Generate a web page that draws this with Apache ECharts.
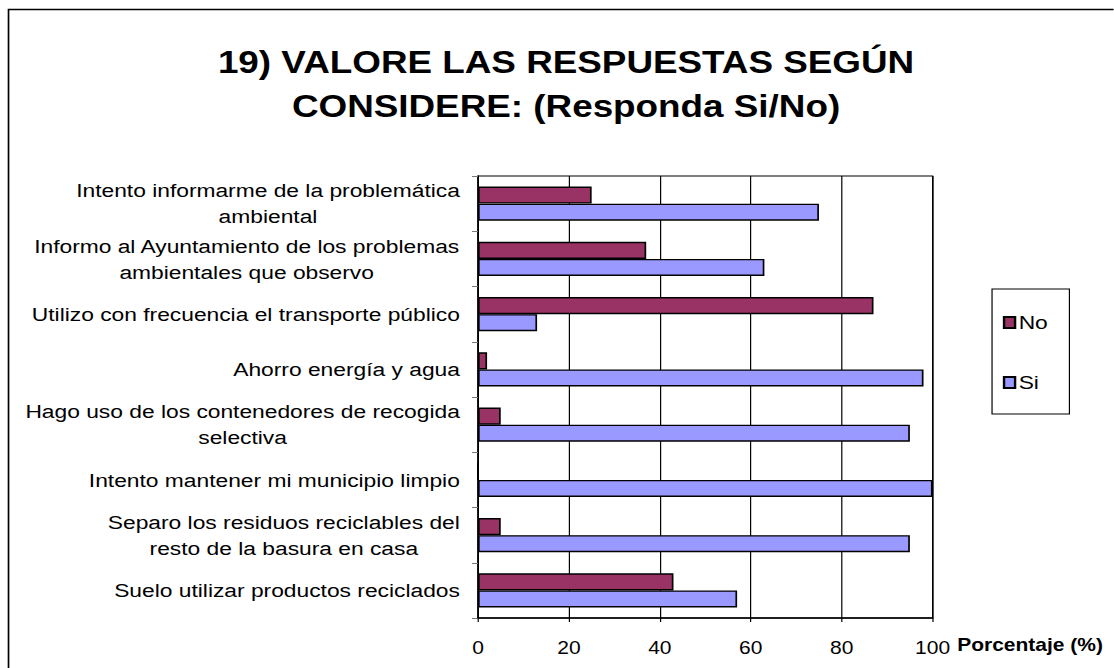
<!DOCTYPE html>
<html>
<head>
<meta charset="utf-8">
<script src="https://cdn.jsdelivr.net/npm/echarts@6/dist/echarts.min.js"></script>
<style>
html,body{margin:0;padding:0;background:#fff;overflow:hidden}
#c{width:928.333px;height:668px;transform:scaleX(1.2);transform-origin:0 0}
</style>
</head>
<body>
<div id="c"></div>
<script>
const categories = [
  "Intento informarme de la problemática\nambiental",
  "Informo al Ayuntamiento de los problemas\nambientales que observo",
  "Utilizo con frecuencia el transporte público",
  "Ahorro energía y agua",
  "Hago uso de los contenedores de recogida\nselectiva",
  "Intento mantener mi municipio limpio",
  "Separo los residuos reciclables del\nresto de la basura en casa",
  "Suelo utilizar productos reciclados"
];
const noValues = [25, 37, 87, 2, 5, 0, 5, 43];
const siValues = [75, 63, 13, 98, 95, 100, 95, 57];
const xTicks = [0, 20, 40, 60, 80, 100];

const FONT = "'Liberation Sans', Arial, sans-serif";
const chart = echarts.init(document.getElementById('c'), null, {renderer: 'svg'});
chart.setOption({
  backgroundColor: '#fff',
  animation: false,
  textStyle: {fontFamily: FONT},
  graphic: [{
    type: 'rect', shape: {x: 7.1, y: 9.5, width: 1200, height: 800},
    style: {fill: 'none', stroke: '#000', lineWidth: 1.4}, silent: true, z: 100
  }],
  title: {
    text: '19) VALORE LAS RESPUESTAS SEGÚN\nCONSIDERE: (Responda Si/No)',
    left: 471.7, top: 40, padding: 0, textAlign: 'center',
    textStyle: {fontFamily: FONT, fontWeight: 'bold', fontSize: 30.7, lineHeight: 44, color: '#000'}
  },
  legend: {
    orient: 'vertical', left: 826.7, top: 289,
    padding: [24, 18, 22, 9], itemGap: 41,
    itemWidth: 9.2, itemHeight: 11, icon: 'rect',
    borderColor: '#000', borderWidth: 1, borderRadius: 0,
    textStyle: {fontFamily: FONT, fontSize: 19, color: '#000', padding: [0, 0, 0, -2]},
    data: ['No', 'Si']
  },
  grid: {left: 398.33, right: 150.83, top: 176, bottom: 50, show: true, borderColor: '#000', borderWidth: 1, containLabel: false},
  xAxis: {
    type: 'value', min: 0, max: 100, interval: 20,
    name: 'Porcentaje (%)', nameLocation: 'end', nameGap: 3,
    nameTextStyle: {fontFamily: FONT, fontWeight: 'bold', fontSize: 17.5, color: '#000', align: 'left', verticalAlign: 'top', padding: [18, 0, 0, 0]},
    axisLine: {show: true, lineStyle: {color: '#000', width: 1.5}},
    axisTick: {show: true, length: 4, lineStyle: {color: '#000'}},
    axisLabel: {fontFamily: FONT, fontSize: 17.5, color: '#000', margin: 21,
      formatter: v => xTicks.includes(v) ? String(v) : ''},
    splitLine: {show: true, lineStyle: {color: '#000', width: 1}}
  },
  yAxis: {
    type: 'category', data: categories, inverse: true,
    axisLine: {show: true, lineStyle: {color: '#000', width: 1.3}},
    axisTick: {show: true, length: 5, lineStyle: {color: '#777'}},
    axisLabel: {
      fontFamily: FONT, fontSize: 19, color: '#000', margin: 15, lineHeight: 26,
      formatter: v => v.split('\n').map(l => '{c|' + l + '}').join('\n'),
      rich: {c: {align: 'center', fontFamily: FONT, fontSize: 19, color: '#000', lineHeight: 26}}
    },
    splitLine: {show: false}
  },
  series: [
    {name: 'No', type: 'bar', data: noValues, barGap: '0%', barCategoryGap: '38%',
      itemStyle: {color: '#993366', borderColor: '#000', borderWidth: 1.4}},
    {name: 'Si', type: 'bar', data: siValues, barGap: '0%', barCategoryGap: '38%',
      itemStyle: {color: '#9999FF', borderColor: '#000', borderWidth: 1.4}}
  ]
});
</script>
</body>
</html>
